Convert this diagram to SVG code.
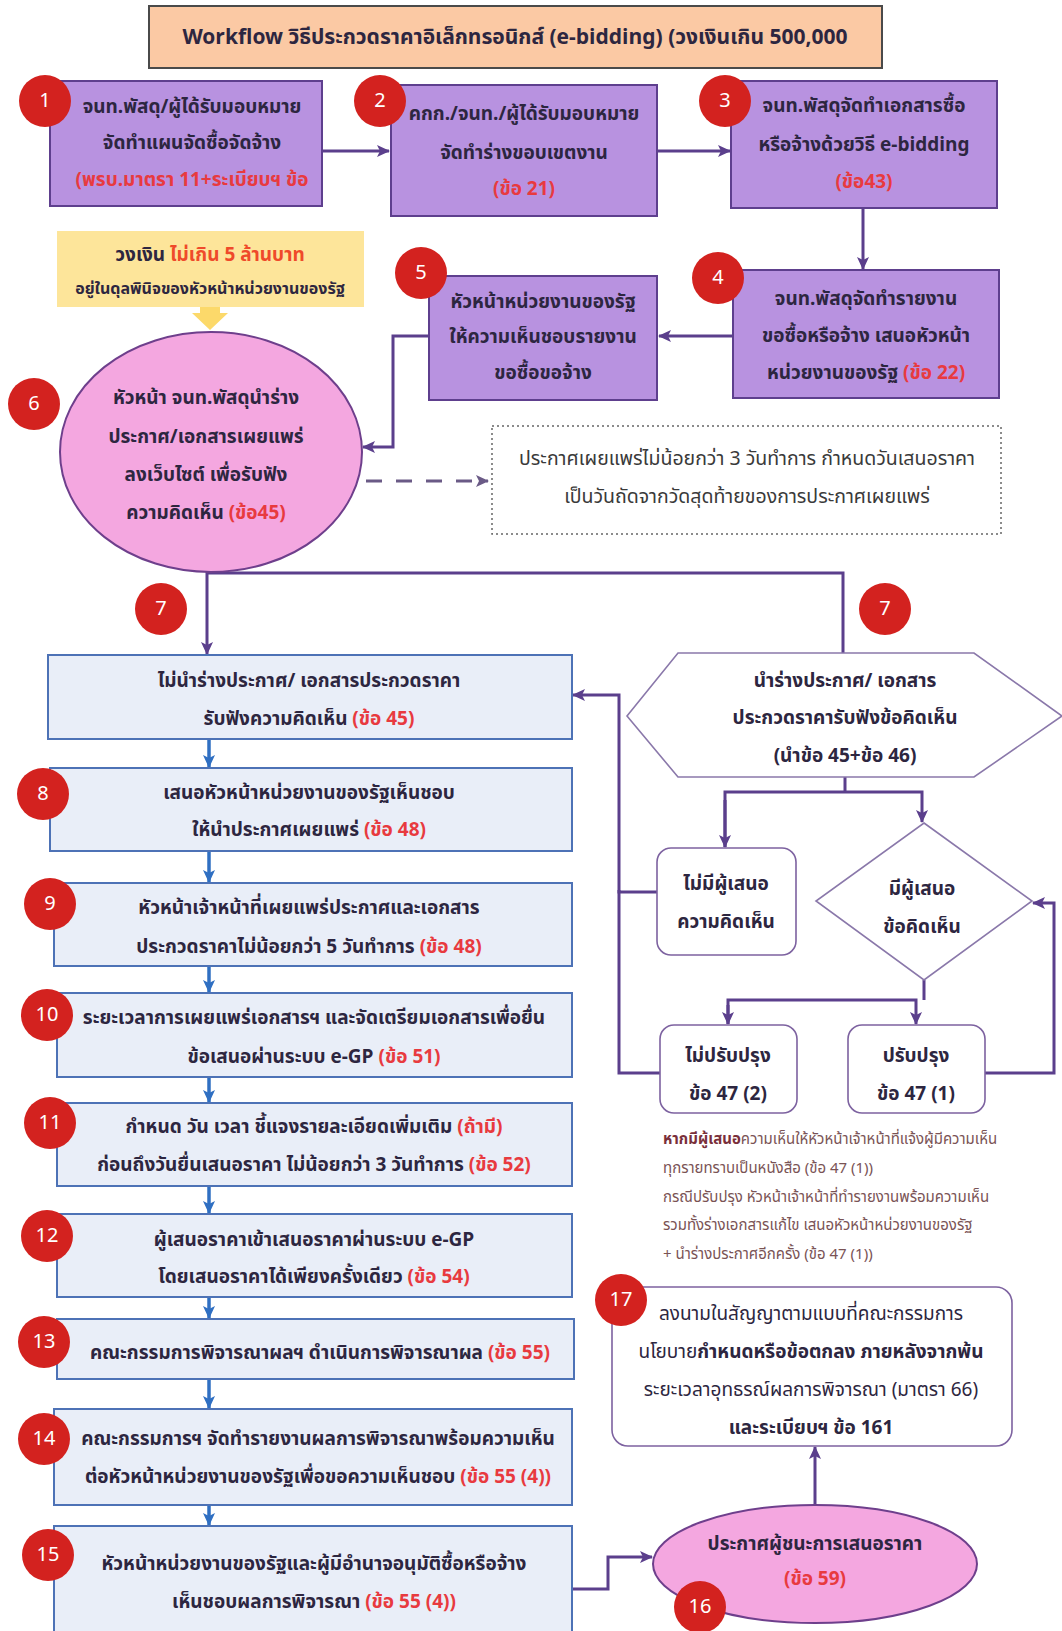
<svg xmlns="http://www.w3.org/2000/svg" width="1062" height="1631" viewBox="0 0 1062 1631">
<style>
text{font-family:"Noto Sans Thai","Noto Sans","DejaVu Sans",sans-serif;font-weight:bold;fill:#2d2640;text-anchor:middle;dominant-baseline:central}
.t17{font-size:19px}
.red{fill:#e83a3f}
.pbox{fill:#b892e0;stroke:#5e3f8e;stroke-width:2}
.bbox{fill:#e9eef8;stroke:#4d72b6;stroke-width:2}
.wbox{fill:#fff;stroke:#7d62a0;stroke-width:1.6}
.pink{fill:#f4a7e0;stroke:#6e3f8c;stroke-width:2}
.badge circle{fill:#d3221f}
.badge text{fill:#fff;font-weight:normal;font-size:20px}
.pc{fill:none;stroke:#5b3f8c;stroke-width:3}
.bc{fill:none;stroke:#2f6fc2;stroke-width:3.5}
.note{font-size:15px;fill:#7a5355;text-anchor:start;font-weight:normal}
.reg{font-weight:normal}
</style>
<defs>
<marker id="pa" markerWidth="14" markerHeight="12" refX="12" refY="6" orient="auto" markerUnits="userSpaceOnUse"><path d="M0,0 L13,6 L0,12 L3,6 Z" fill="#5b3f8c"/></marker>
<marker id="ba" markerWidth="14" markerHeight="12" refX="12" refY="6" orient="auto" markerUnits="userSpaceOnUse"><path d="M0,0 L13,6 L0,12 L3,6 Z" fill="#2f6fc2"/></marker>
<marker id="da" markerWidth="14" markerHeight="12" refX="12" refY="6" orient="auto" markerUnits="userSpaceOnUse"><path d="M0,0 L13,6 L0,12 L3,6 Z" fill="#6a5a86"/></marker>
</defs>
<rect width="1062" height="1631" fill="#fff"/>

<g id="title">
<rect x="149" y="6" width="733" height="62" fill="#fbc9a4" stroke="#4a4a4a" stroke-width="2"/>
<text x="515" y="37" style="font-size:21px">Workflow วิธีประกวดราคาอิเล็กทรอนิกส์ (e-bidding) (วงเงินเกิน 500,000</text>
</g>

<g id="connectors">
<line class="pc" x1="322" y1="151" x2="389" y2="151" marker-end="url(#pa)"/>
<line class="pc" x1="657" y1="151" x2="730" y2="151" marker-end="url(#pa)"/>
<line class="pc" x1="863" y1="208" x2="863" y2="269" marker-end="url(#pa)"/>
<line class="pc" x1="733" y1="336" x2="659" y2="336" marker-end="url(#pa)"/>
<polyline class="pc" points="429,336 393,336 393,447 363,447" marker-end="url(#pa)"/>
<line x1="366" y1="481" x2="488" y2="481" stroke="#6a5a86" stroke-width="3" stroke-dasharray="16 14" marker-end="url(#da)"/>
<polyline class="pc" points="843,653 843,573 207,573 207,654" marker-end="url(#pa)"/>
<line class="bc" x1="209" y1="739" x2="209" y2="767" marker-end="url(#ba)"/>
<line class="bc" x1="209" y1="851" x2="209" y2="882" marker-end="url(#ba)"/>
<line class="bc" x1="209" y1="966" x2="209" y2="992" marker-end="url(#ba)"/>
<line class="bc" x1="209" y1="1077" x2="209" y2="1102" marker-end="url(#ba)"/>
<line class="bc" x1="209" y1="1186" x2="209" y2="1213" marker-end="url(#ba)"/>
<line class="bc" x1="209" y1="1297" x2="209" y2="1318" marker-end="url(#ba)"/>
<line class="bc" x1="209" y1="1379" x2="209" y2="1408" marker-end="url(#ba)"/>
<line class="bc" x1="209" y1="1505" x2="209" y2="1525" marker-end="url(#ba)"/>
<polyline class="pc" points="845,777 845,792" />
<polyline class="pc" points="725,847 725,792 922,792 922,822" marker-end="url(#pa)"/>
<line class="pc" x1="725" y1="800" x2="725" y2="847" marker-end="url(#pa)"/>
<polyline class="pc" points="657,892 619,892 619,695 573,695" marker-end="url(#pa)"/>
<polyline class="pc" points="660,1073 619,1073 619,890"/>
<polyline class="pc" points="924,980 924,1000"/>
<polyline class="pc" points="728,1024 728,1000 916,1000 916,1024" marker-end="url(#pa)"/>
<line class="pc" x1="728" y1="1005" x2="728" y2="1024" marker-end="url(#pa)"/>
<polyline class="pc" points="985,1073 1054,1073 1054,903 1033,903" marker-end="url(#pa)"/>
<polyline class="pc" points="572,1589 608,1589 608,1557 652,1557" marker-end="url(#pa)"/>
<line class="pc" x1="815" y1="1505" x2="815" y2="1447" marker-end="url(#pa)"/>
</g>

<g id="node1">
<rect class="pbox" x="50" y="81" width="272" height="125"/>
<text class="t17" x="192" y="107">จนท.พัสดุ/ผู้ได้รับมอบหมาย</text>
<text class="t17" x="192" y="143">จัดทำแผนจัดซื้อจัดจ้าง</text>
<text class="t17 red" x="192" y="180">(พรบ.มาตรา 11+ระเบียบฯ ข้อ</text>
<g class="badge"><circle cx="45" cy="101" r="26"/><text x="45" y="101">1</text></g>
</g>

<g id="node2">
<rect class="pbox" x="391" y="85" width="266" height="131"/>
<text class="t17" x="524" y="114">คกก./จนท./ผู้ได้รับมอบหมาย</text>
<text class="t17" x="524" y="153">จัดทำร่างขอบเขตงาน</text>
<text class="t17 red" x="524" y="189">(ข้อ 21)</text>
<g class="badge"><circle cx="380" cy="101" r="26"/><text x="380" y="101">2</text></g>
</g>

<g id="node3">
<rect class="pbox" x="731" y="81" width="266" height="127"/>
<text class="t17" x="864" y="106">จนท.พัสดุจัดทำเอกสารซื้อ</text>
<text class="t17" x="864" y="145">หรือจ้างด้วยวิธี e-bidding</text>
<text class="t17 red" x="864" y="182">(ข้อ43)</text>
<g class="badge"><circle cx="725" cy="101" r="26"/><text x="725" y="101">3</text></g>
</g>

<g id="node4">
<rect class="pbox" x="733" y="270" width="266" height="128"/>
<text class="t17" x="866" y="299">จนท.พัสดุจัดทำรายงาน</text>
<text class="t17" x="866" y="336">ขอซื้อหรือจ้าง เสนอหัวหน้า</text>
<text class="t17" x="866" y="373">หน่วยงานของรัฐ <tspan class="red">(ข้อ 22)</tspan></text>
<g class="badge"><circle cx="718" cy="278" r="26"/><text x="718" y="278">4</text></g>
</g>

<g id="node5">
<rect class="pbox" x="429" y="276" width="228" height="124"/>
<text class="t17" x="543" y="302">หัวหน้าหน่วยงานของรัฐ</text>
<text class="t17" x="543" y="337">ให้ความเห็นชอบรายงาน</text>
<text class="t17" x="543" y="373">ขอซื้อขอจ้าง</text>
<g class="badge"><circle cx="421" cy="273" r="26"/><text x="421" y="273">5</text></g>
</g>

<g id="budget-note">
<rect x="57" y="231" width="307" height="76" fill="#fde59a"/>
<text x="210" y="255" style="font-size:19px">วงเงิน <tspan fill="#ef4a2a">ไม่เกิน 5 ล้านบาท</tspan></text>
<text x="210" y="289" style="font-size:16px">อยู่ในดุลพินิจของหัวหน้าหน่วยงานของรัฐ</text>
<polygon points="200,307 220,307 220,313 228,313 210,330 192,313 200,313" fill="#fcd96a"/>
</g>

<g id="node6">
<ellipse class="pink" cx="211" cy="452" rx="151" ry="120"/>
<text class="t17" x="206" y="398">หัวหน้า จนท.พัสดุนำร่าง</text>
<text class="t17" x="206" y="437">ประกาศ/เอกสารเผยแพร่</text>
<text class="t17" x="206" y="475">ลงเว็บไซต์ เพื่อรับฟัง</text>
<text class="t17" x="206" y="513">ความคิดเห็น <tspan class="red">(ข้อ45)</tspan></text>
<g class="badge"><circle cx="34" cy="404" r="26"/><text x="34" y="404">6</text></g>
</g>

<g id="publish-note">
<rect x="492" y="426" width="509" height="108" fill="#fff" stroke="#666" stroke-width="1.5" stroke-dasharray="2 3"/>
<text x="747" y="459" style="font-size:19.5px;font-weight:normal;fill:#3a3a3a">ประกาศเผยแพร่ไม่น้อยกว่า 3 วันทำการ กำหนดวันเสนอราคา</text>
<text x="747" y="497" style="font-size:19.5px;font-weight:normal;fill:#3a3a3a">เป็นวันถัดจากวัดสุดท้ายของการประกาศเผยแพร่</text>
</g>

<g id="badge7-left" class="badge"><circle cx="161" cy="609" r="26"/><text x="161" y="609">7</text></g>
<g id="badge7-right" class="badge"><circle cx="885" cy="609" r="26"/><text x="885" y="609">7</text></g>

<g id="node7a">
<rect class="bbox" x="48" y="655" width="524" height="84"/>
<text class="t17" x="309" y="681">ไม่นำร่างประกาศ/ เอกสารประกวดราคา</text>
<text class="t17" x="309" y="719">รับฟังความคิดเห็น  <tspan class="red">(ข้อ 45)</tspan></text>
</g>

<g id="node8">
<rect class="bbox" x="50" y="768" width="522" height="83"/>
<text class="t17" x="309" y="793">เสนอหัวหน้าหน่วยงานของรัฐเห็นชอบ</text>
<text class="t17" x="309" y="830">ให้นำประกาศเผยแพร่  <tspan class="red">(ข้อ 48)</tspan></text>
<g class="badge"><circle cx="43" cy="794" r="26"/><text x="43" y="794">8</text></g>
</g>

<g id="node9">
<rect class="bbox" x="54" y="883" width="518" height="83"/>
<text class="t17" x="309" y="908">หัวหน้าเจ้าหน้าที่เผยแพร่ประกาศและเอกสาร</text>
<text class="t17" x="309" y="947">ประกวดราคาไม่น้อยกว่า 5 วันทำการ <tspan class="red">(ข้อ 48)</tspan></text>
<g class="badge"><circle cx="50" cy="904" r="26"/><text x="50" y="904">9</text></g>
</g>

<g id="node10">
<rect class="bbox" x="57" y="993" width="515" height="84"/>
<text class="t17" x="314" y="1018">ระยะเวลาการเผยแพร่เอกสารฯ และจัดเตรียมเอกสารเพื่อยื่น</text>
<text class="t17" x="314" y="1057">ข้อเสนอผ่านระบบ e-GP  <tspan class="red">(ข้อ 51)</tspan></text>
<g class="badge"><circle cx="47" cy="1015" r="26"/><text x="47" y="1015">10</text></g>
</g>

<g id="node11">
<rect class="bbox" x="57" y="1103" width="515" height="83"/>
<text class="t17" x="314" y="1127">กำหนด วัน เวลา ชี้แจงรายละเอียดเพิ่มเติม <tspan class="red">(ถ้ามี)</tspan></text>
<text class="t17" x="314" y="1165">ก่อนถึงวันยื่นเสนอราคา ไม่น้อยกว่า 3 วันทำการ  <tspan class="red">(ข้อ 52)</tspan></text>
<g class="badge"><circle cx="50" cy="1123" r="26"/><text x="50" y="1123">11</text></g>
</g>

<g id="node12">
<rect class="bbox" x="57" y="1214" width="515" height="83"/>
<text class="t17" x="314" y="1240">ผู้เสนอราคาเข้าเสนอราคาผ่านระบบ e-GP</text>
<text class="t17" x="314" y="1277">โดยเสนอราคาได้เพียงครั้งเดียว <tspan class="red">(ข้อ 54)</tspan></text>
<g class="badge"><circle cx="47" cy="1236" r="26"/><text x="47" y="1236">12</text></g>
</g>

<g id="node13">
<rect class="bbox" x="57" y="1319" width="517" height="60"/>
<text class="t17" x="320" y="1353">คณะกรรมการพิจารณาผลฯ ดำเนินการพิจารณาผล  <tspan class="red">(ข้อ 55)</tspan></text>
<g class="badge"><circle cx="44" cy="1342" r="26"/><text x="44" y="1342">13</text></g>
</g>

<g id="node14">
<rect class="bbox" x="54" y="1409" width="518" height="96"/>
<text class="t17" x="318" y="1439">คณะกรรมการฯ จัดทำรายงานผลการพิจารณาพร้อมความเห็น</text>
<text class="t17" x="318" y="1477">ต่อหัวหน้าหน่วยงานของรัฐเพื่อขอความเห็นชอบ  <tspan class="red">(ข้อ 55 (4))</tspan></text>
<g class="badge"><circle cx="44" cy="1439" r="26"/><text x="44" y="1439">14</text></g>
</g>

<g id="node15">
<rect class="bbox" x="54" y="1526" width="518" height="115"/>
<text class="t17" x="314" y="1564">หัวหน้าหน่วยงานของรัฐและผู้มีอำนาจอนุมัติซื้อหรือจ้าง</text>
<text class="t17" x="314" y="1602">เห็นชอบผลการพิจารณา  <tspan class="red">(ข้อ 55 (4))</tspan></text>
<g class="badge"><circle cx="48" cy="1555" r="26"/><text x="48" y="1555">15</text></g>
</g>

<g id="node7b">
<polygon points="627,716 678,653 974,653 1062,716 974,777 678,777" fill="#fff" stroke="#8a78aa" stroke-width="1.6"/>
<text class="t17" x="845" y="681">นำร่างประกาศ/ เอกสาร</text>
<text class="t17" x="845" y="718">ประกวดราคารับฟังข้อคิดเห็น</text>
<text class="t17" x="845" y="756">(นำข้อ 45+ข้อ 46)</text>
</g>

<g id="no-comment">
<rect class="wbox" x="657" y="848" width="139" height="107" rx="14"/>
<text class="t17" x="726" y="884">ไม่มีผู้เสนอ</text>
<text class="t17" x="726" y="922">ความคิดเห็น</text>
</g>

<g id="has-comment">
<polygon points="924,823 1032,901 924,980 816,901" fill="#fff" stroke="#8a78aa" stroke-width="1.6"/>
<text class="t17" x="922" y="889">มีผู้เสนอ</text>
<text class="t17" x="922" y="927">ข้อคิดเห็น</text>
</g>

<g id="no-revise">
<rect class="wbox" x="660" y="1025" width="137" height="88" rx="14"/>
<text class="t17" x="728" y="1056">ไม่ปรับปรุง</text>
<text class="t17" x="728" y="1094">ข้อ 47 (2)</text>
</g>

<g id="revise">
<rect class="wbox" x="848" y="1025" width="137" height="88" rx="14"/>
<text class="t17" x="916" y="1056">ปรับปรุง</text>
<text class="t17" x="916" y="1094">ข้อ 47 (1)</text>
</g>

<g id="revise-note">
<text class="note" x="663" y="1139"><tspan style="font-weight:bold;fill:#7a2f3a">หากมีผู้เสนอ</tspan>ความเห็นให้หัวหน้าเจ้าหน้าที่แจ้งผู้มีความเห็น</text>
<text class="note" x="663" y="1168">ทุกรายทราบเป็นหนังสือ (ข้อ 47 (1))</text>
<text class="note" x="663" y="1197">กรณีปรับปรุง หัวหน้าเจ้าหน้าที่ทำรายงานพร้อมความเห็น</text>
<text class="note" x="663" y="1225">รวมทั้งร่างเอกสารแก้ไข เสนอหัวหน้าหน่วยงานของรัฐ</text>
<text class="note" x="663" y="1254">+ นำร่างประกาศอีกครั้ง (ข้อ 47 (1))</text>
</g>

<g id="node17">
<rect class="wbox" x="612" y="1287" width="400" height="159" rx="16"/>
<text class="t17 reg" x="811" y="1314">ลงนามในสัญญาตามแบบที่คณะกรรมการ</text>
<text class="t17" x="811" y="1352"><tspan class="reg">นโยบาย</tspan>กำหนดหรือข้อตกลง ภายหลังจากพ้น</text>
<text class="t17 reg" x="811" y="1390">ระยะเวลาอุทธรณ์ผลการพิจารณา (มาตรา 66)</text>
<text class="t17" x="811" y="1428">และระเบียบฯ ข้อ 161</text>
<g class="badge"><circle cx="621" cy="1300" r="26"/><text x="621" y="1300">17</text></g>
</g>

<g id="node16">
<ellipse class="pink" cx="815" cy="1564" rx="162" ry="59"/>
<text class="t17" x="815" y="1544">ประกาศผู้ชนะการเสนอราคา</text>
<text class="t17 red" x="815" y="1579">(ข้อ 59)</text>
<g class="badge"><circle cx="700" cy="1607" r="26"/><text x="700" y="1607">16</text></g>
</g>
</svg>
